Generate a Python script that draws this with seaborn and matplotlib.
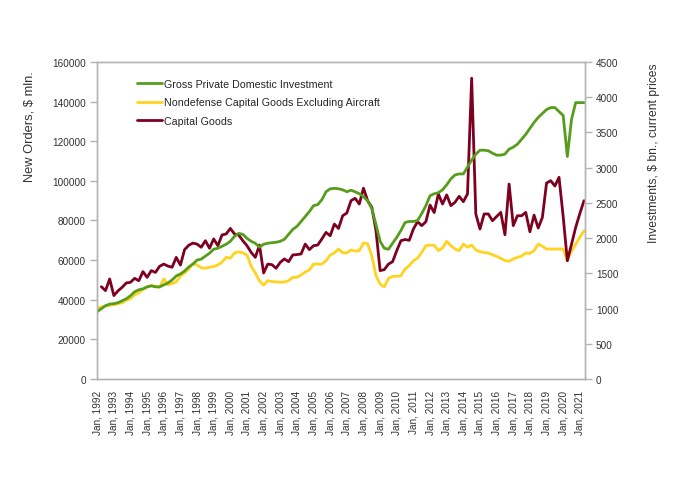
import numpy as np
import pandas as pd
import seaborn as sns
import matplotlib.pyplot as plt

# ------------------ Data (quarterly, Jan 1992 .. Apr 2021) ------------------
years = list(range(1992, 2022))
quarters = [f"{y}Q{q}" for y in years for q in range(1, 5)][:118]

# Gross Private Domestic Investment, $ bn (right axis)
gpdi = [956, 998, 1041, 1063, 1069, 1083, 1111, 1139, 1181, 1238, 1266, 1280,
        1308, 1322, 1308, 1308, 1336, 1364, 1406, 1463, 1491, 1533, 1589, 1631,
        1688, 1702, 1744, 1786, 1842, 1856, 1884, 1913, 1955, 2025, 2067, 2053,
        1997, 1955, 1927, 1870, 1913, 1927, 1935, 1941, 1955, 1983, 2053, 2123,
        2166, 2236, 2306, 2377, 2461, 2475, 2545, 2658, 2700, 2706, 2700, 2686,
        2658, 2680, 2658, 2630, 2588, 2531, 2419, 2194, 1955, 1856, 1842, 1927,
        2011, 2109, 2222, 2236, 2236, 2250, 2348, 2461, 2602, 2630, 2644, 2686,
        2756, 2841, 2897, 2911, 2911, 3009, 3108, 3192, 3248, 3248, 3240, 3206,
        3178, 3178, 3192, 3263, 3291, 3333, 3403, 3473, 3558, 3642, 3713, 3769,
        3825, 3853, 3853, 3797, 3741, 3158, 3684, 3923, 3923, 3923]

# Nondefense capital goods excluding aircraft, $ mln (left axis)
nondef = [35700, 36300, 36800, 37200, 37500, 38000, 38500, 39800,
          40500, 42500, 43500, 45200, 46500, 47200, 46800, 46300,
          50500, 47500, 48200, 49000, 52000, 53500, 55500, 58400,
          57500, 56200, 55900, 56400, 56800, 57500, 59000, 61400,
          61000, 63600, 64200, 63600, 62600, 57000, 53500, 49500,
          47400, 49600, 49200, 49000, 48800, 49000, 49600, 51300,
          51300, 52500, 54000, 55000, 58000, 58000, 58000, 59700,
          62600, 63600, 65600, 63800, 63600, 65100, 64600, 64800,
          68600, 68300, 62200, 52100, 47900, 46500, 50800, 51800,
          51800, 52100, 55500, 57200, 59700, 61000, 63900, 67300,
          67600, 67500, 64800, 66100, 69500, 67300, 65600, 64800,
          68100, 66500, 67600, 65100, 64300, 63800, 63600, 62700,
          61900, 60900, 59800, 59400, 60600, 61400, 62000, 63600,
          63400, 64800, 68100, 67000, 65600, 65600, 65600, 65600,
          65600, 59700, 64500, 68000, 71500, 74800]

# Capital goods, $ mln (left axis)
capital = [np.nan, 46600, 44600, 50500, 42100, 44500, 46300, 48500,
           48800, 50800, 49600, 54200, 51300, 54700, 53800, 56900,
           58000, 57000, 56400, 61400, 57500, 65300, 67500, 68600,
           68100, 66500, 69800, 66000, 70700, 67300, 72700, 73200,
           76000, 73200, 72700, 69800, 67300, 63900, 61400, 67600,
           53500, 58000, 57700, 55900, 58900, 60600, 59200, 62600,
           62800, 63100, 68100, 65300, 67300, 67600, 70700, 74000,
           72300, 78200, 76000, 82400, 83800, 90000, 91200, 88300,
           96300, 90000, 86700, 75000, 54700, 55200, 58000, 59200,
           64800, 69800, 70400, 70000, 75700, 79400, 77400, 79400,
           87800, 84000, 93400, 88300, 92900, 87500, 89200, 92200,
           89500, 93400, 151800, 83300, 75700, 83300, 83300, 79900,
           82000, 84100, 72800, 98400, 77400, 82400, 82400, 84100,
           74300, 82700, 76200, 81600, 98900, 100100, 97400, 101800,
           82000, 59700, 68000, 76500, 83500, 90000]

df = pd.DataFrame({"quarter": quarters, "gpdi": gpdi,
                   "nondef": nondef, "capital": capital})
df["t"] = np.arange(len(df))

# ------------------ Plot ------------------
sns.set_style("white")
plt.rcParams["font.family"] = ["Liberation Sans", "DejaVu Sans"]

green = "#579d1c"
yellow = "#ffd320"
red = "#7e0021"
frame = "#b3b3b3"
txt = "#333333"

fig = plt.figure(figsize=(6.84, 4.85), dpi=100)
ax = fig.add_axes([0.1418, 0.2165, 0.7132, 0.6536])
ax2 = ax.twinx()

sns.lineplot(data=df, x="t", y="nondef", ax=ax, color=yellow, lw=2,
             label="Nondefense Capital Goods Excluding Aircraft", legend=False)
sns.lineplot(data=df.dropna(), x="t", y="capital", ax=ax, color=red, lw=2,
             label="Capital Goods", legend=False)
sns.lineplot(data=df, x="t", y="gpdi", ax=ax2, color=green, lw=2,
             label="Gross Private Domestic Investment", legend=False)

ax.set_xlim(-0.05, 117.2)
ax.set_ylim(0, 160000)
ax2.set_ylim(0, 4500)
ax.set_yticks(range(0, 160001, 20000))
ax2.set_yticks(range(0, 4501, 500))

tick_pos = df["t"][::4]
ax.set_xticks(tick_pos)
ax.set_xticklabels([f"Jan, {y}" for y in years], rotation=90)

for a in (ax, ax2):
    for s in a.spines.values():
        s.set_color(frame)
        s.set_linewidth(1)
    a.tick_params(colors=frame, labelcolor=txt, labelsize=7.2,
                  length=5, width=1, direction="out", pad=3)
    a.grid(False)

ax.set_xlabel("")
ax.set_ylabel("New Orders, $ mln.", fontsize=9.3, color=txt)
ax.yaxis.set_label_coords(-0.127, 0.80)
ax2.set_ylabel("Investments, $ bn., current prices", fontsize=8.7, color=txt)
ax2.yaxis.set_label_coords(1.129, 0.715)

h1, l1 = ax2.get_legend_handles_labels()
h2, l2 = ax.get_legend_handles_labels()
ax2.legend(h1 + h2, l1 + l2, loc="upper left", bbox_to_anchor=(0.081, 0.946),
           frameon=False, fontsize=7.7, handlelength=2.35, handletextpad=0.25,
           labelspacing=0.77, borderpad=0, borderaxespad=0)

fig.savefig("out.png", dpi=100)
